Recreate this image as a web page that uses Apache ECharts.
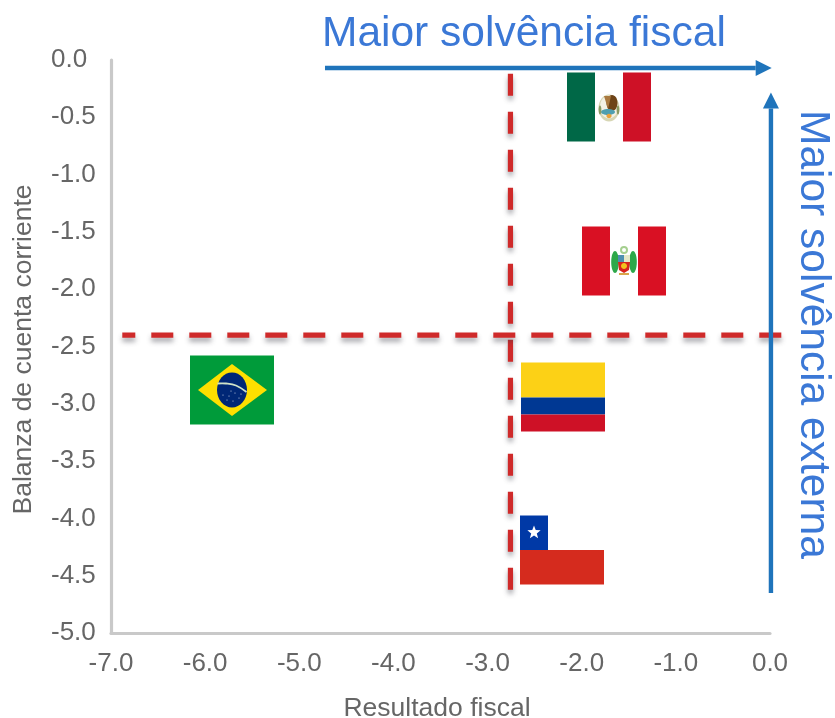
<!DOCTYPE html>
<html>
<head>
<meta charset="utf-8">
<style>html,body{margin:0;padding:0;background:#fff}#chart{width:835px;height:718px}</style>
<script src="https://cdn.jsdelivr.net/npm/echarts@6/dist/echarts.min.js"></script>
</head>
<body>
<div id="chart"></div>
<script>
// Country positions: fiscal balance (x) and current account balance (y)
const countries = ['Mexico', 'Peru', 'Colombia', 'Chile', 'Brazil'];
const fiscalBalance = [-1.71, -1.55, -2.2, -2.21, -5.71];
const currentAccount = [-0.41, -1.75, -2.94, -4.28, -2.88];

// Reference thresholds and the extent of their dashed lines
const fiscalThreshold = -2.757;
const externalThreshold = -2.4;
const fiscalThresholdSpan = [-0.12, -4.64];
const externalThresholdSpan = [-6.88, 0.14];

// Direction arrows: [from, to] in axis units
const fiscalArrow = [[-4.727, -0.07], [0.018, -0.07]];
const externalArrow = [[0.01, -4.65], [0.01, -0.284]];

const xTicks = { min: -7, max: 0, interval: 1 };
const yTicks = { min: -5, max: 0, interval: 0.5 };

const xAxisTitle = 'Resultado fiscal';
const yAxisTitle = 'Balanza de cuenta corriente';
const fiscalCaption = 'Maior solvência fiscal';
const externalCaption = 'Maior solvência externa';

const GREY = '#666666';
const BLUE = '#1f74bb';
const CAPTION_BLUE = '#3b78d6';
const DASH_RED = '#cf2a2a';
const FLAG_W = 84, FLAG_H = 69;

const rect = (x, y, w, h, fill) => ({ type: 'rect', shape: { x, y, width: w, height: h }, style: { fill } });
const dot = (cx, cy, rx, ry, fill) => ({ type: 'ellipse', shape: { cx, cy, rx, ry }, style: { fill } });
const poly = (points, fill) => ({ type: 'polygon', shape: { points }, style: { fill } });

function star(cx, cy, r, fill) {
  const pts = [];
  for (let i = 0; i < 10; i++) {
    const a = -Math.PI / 2 + i * Math.PI / 5;
    const d = i % 2 ? r * 0.42 : r;
    pts.push([cx + d * Math.cos(a), cy + d * Math.sin(a)]);
  }
  return poly(pts, fill);
}

// Each flag is drawn around (0,0), which is the country's data position
function flagParts(name) {
  const L = -FLAG_W / 2, T = -FLAG_H / 2, third = FLAG_W / 3;
  if (name === 'Mexico') return [
    rect(L, T, third, FLAG_H, '#006847'),
    rect(L + third, T, third, FLAG_H, '#ffffff'),
    rect(L + 2 * third, T, third, FLAG_H, '#ce1126'),
    dot(0, 1, 10.5, 13.5, '#d7d6b4'),
    dot(0, 0, 9, 11.5, '#f3f1e4'),
    dot(3, -4, 5.5, 8, '#6e4317'),
    poly([[-5, -11], [2, -11], [-1, 2]], '#a9793f'),
    dot(-1, 5, 7, 3, '#4f9fb0'),
    dot(0, 9, 2.6, 2.2, '#e9a23b'),
    dot(-9, 3, 1.4, 4.5, '#8a9a62'),
    dot(9, 3, 1.4, 4.5, '#8a9a62')
  ];
  if (name === 'Peru') return [
    rect(L, T, third, FLAG_H, '#d91023'),
    rect(L + third, T, third, FLAG_H, '#ffffff'),
    rect(L + 2 * third, T, third, FLAG_H, '#d91023'),
    dot(-9, 1, 3.8, 11, '#2da84a'),
    dot(9, 1, 3.8, 11, '#2da84a'),
    { type: 'ring', shape: { cx: 0, cy: -11, r: 4, r0: 2 }, style: { fill: '#a5cf8f' } },
    rect(-6, -6, 6, 7, '#4f8fb0'),
    rect(0, -6, 6, 7, '#e4e7c8'),
    poly([[-6, 1], [6, 1], [5, 9], [0, 12], [-5, 9]], '#d8231f'),
    dot(0, 5, 3, 3, '#f2c21e'),
    rect(-5, 12, 10, 2, '#d9a64a')
  ];
  if (name === 'Colombia') return [
    rect(L, T, FLAG_W, 35, '#fcd116'),
    rect(L, T + 35, FLAG_W, 17, '#003893'),
    rect(L, T + 52, FLAG_W, 17, '#ce1126')
  ];
  if (name === 'Chile') return [
    rect(L, T, FLAG_W, 34.5, '#ffffff'),
    rect(L, T, 28, 34.5, '#0039a6'),
    rect(L, T + 34.5, FLAG_W, 34.5, '#d52b1e'),
    star(L + 14, T + 17, 7, '#ffffff')
  ];
  // Brazil
  return [
    rect(L, T, FLAG_W, FLAG_H, '#009b3a'),
    poly([[-34, 0], [0, -26], [35, 0], [0, 26]], '#fedf00'),
    dot(0, 0, 15, 17.5, '#002776'),
    { type: 'polyline', shape: { points: [[-14.5, -6.5], [-6, -6.5], [4, -4.5], [14.5, 2]], smooth: 0.4 },
      style: { fill: null, stroke: '#cfe3c8', lineWidth: 1.8 } },
    ...[[-9, 5], [-3, 6], [3, 3], [7, 8], [-5, 10], [1, 11], [9, 4], [-1, 1]].map(
      p => dot(p[0], p[1], 0.6, 0.6, '#c6d2e6'))
  ];
}

const flagSeries = {
  type: 'custom',
  name: 'Países',
  coordinateSystem: 'cartesian2d',
  clip: false,
  z: 3,
  data: countries.map((c, i) => [fiscalBalance[i], currentAccount[i], c]),
  renderItem(params, api) {
    const p = api.coord([api.value(0), api.value(1)]);
    return { type: 'group', x: Math.round(p[0]), y: Math.round(p[1]), children: flagParts(countries[params.dataIndex]) };
  }
};

// Dashed thresholds; the line style carries the soft drop shadow
function dashedLine(a, b, offset) {
  return {
    type: 'custom',
    coordinateSystem: 'cartesian2d',
    clip: false,
    silent: true,
    z: 2,
    data: [[a[0], a[1]]],
    renderItem(params, api) {
      const p = api.coord(a), q = api.coord(b);
      return {
        type: 'line',
        shape: { x1: p[0], y1: p[1], x2: q[0], y2: q[1] },
        style: {
          stroke: DASH_RED, lineWidth: 5.2, lineDash: [22, 16], lineDashOffset: offset,
          shadowColor: 'rgba(60,60,70,0.45)', shadowBlur: 5, shadowOffsetY: 4, fill: null
        }
      };
    }
  };
}

function arrow(from, to) {
  return {
    type: 'custom',
    coordinateSystem: 'cartesian2d',
    clip: false,
    silent: true,
    z: 4,
    data: [[from[0], from[1]]],
    renderItem(params, api) {
      const p = api.coord(from), q = api.coord(to);
      const len = Math.hypot(q[0] - p[0], q[1] - p[1]);
      const ux = (q[0] - p[0]) / len, uy = (q[1] - p[1]) / len;
      const bx = q[0] - ux * 16, by = q[1] - uy * 16;
      return {
        type: 'group',
        children: [
          { type: 'line', shape: { x1: p[0], y1: p[1], x2: bx, y2: by }, style: { stroke: BLUE, lineWidth: 4.4, fill: null } },
          { type: 'polygon', shape: { points: [[q[0], q[1]], [bx - uy * 8, by + ux * 8], [bx + uy * 8, by - ux * 8]] }, style: { fill: BLUE } }
        ]
      };
    }
  };
}

const axisCommon = {
  type: 'value',
  splitLine: { show: false },
  axisTick: { show: false },
  axisLine: { show: true, onZero: false, lineStyle: { color: '#c9c9c9', width: 3.2 } },
  axisLabel: {
    color: GREY, fontFamily: 'Liberation Sans, Arial, sans-serif', fontSize: 26,
    formatter: v => v.toFixed(1)
  },
  nameLocation: 'middle',
  nameTextStyle: { color: GREY, fontFamily: 'Liberation Sans, Arial, sans-serif', fontSize: 26.5 }
};

const chart = echarts.init(document.getElementById('chart'), null, { renderer: 'canvas' });
chart.setOption({
  animation: false,
  backgroundColor: '#ffffff',
  grid: { left: 111, right: 65, top: 60, bottom: 85, containLabel: false, outerBoundsMode: 'none' },
  xAxis: { ...axisCommon, ...xTicks, name: xAxisTitle, nameGap: 62,
    nameTextStyle: { ...axisCommon.nameTextStyle, padding: [0, 7, 0, 0] },
    axisLabel: { ...axisCommon.axisLabel, margin: 18 } },
  yAxis: { ...axisCommon, ...yTicks, name: yAxisTitle, nameGap: 74,
    nameTextStyle: { ...axisCommon.nameTextStyle, padding: [0, 6, 0, 0] },
    axisLabel: { ...axisCommon.axisLabel, margin: 60, align: 'left', padding: [4, 0, 0, 0] } },
  series: [
    dashedLine([fiscalThreshold, fiscalThresholdSpan[0]], [fiscalThreshold, fiscalThresholdSpan[1]], 0),
    dashedLine([externalThresholdSpan[0], externalThreshold], [externalThresholdSpan[1], externalThreshold], 9),
    flagSeries,
    arrow(fiscalArrow[0], fiscalArrow[1]),
    arrow(externalArrow[0], externalArrow[1])
  ],
  graphic: [
    { type: 'text', x: 322, y: 13, style: { text: fiscalCaption, fill: CAPTION_BLUE, fontFamily: 'Liberation Sans, Arial, sans-serif', fontSize: 42.5 } },
    { type: 'text', x: 834, y: 110, rotation: -Math.PI / 2, style: { text: externalCaption, fill: CAPTION_BLUE, fontFamily: 'Liberation Sans, Arial, sans-serif', fontSize: 42.5 } }
  ]
});
</script>
</body>
</html>
